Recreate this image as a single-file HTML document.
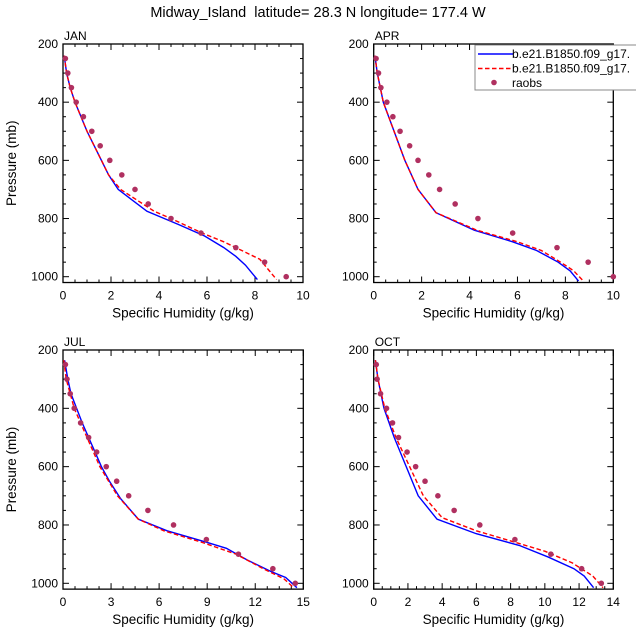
<!DOCTYPE html>
<html><head><meta charset="utf-8"><style>
html,body{margin:0;padding:0;background:#fff;}
svg{display:block;font-family:"Liberation Sans",sans-serif;}
</style></head><body>
<svg id="chart" width="636" height="639" viewBox="0 0 636 639">
<text x="318" y="17" text-anchor="middle" font-size="14.5">Midway_Island&#160; latitude= 28.3 N longitude= 177.4 W</text>
</svg>
<script>
const months = ["JAN","APR","JUL","OCT"];
const xMaxes = [10,10,15,14];
const xStepMajor = [2,2,3,2];
// JAN
const janBlueP = [240,300,350,400,500,600,650,700,775,820,860,900,930,960,990,1010];
const janBlueQ = [0.05,0.15,0.3,0.5,1.0,1.6,1.9,2.3,3.5,4.8,5.9,6.7,7.2,7.6,7.9,8.1];
const janRedP = [240,300,350,400,500,600,650,700,775,800,850,880,900,940,980,1010];
const janRedQ = [0.05,0.15,0.3,0.5,1.0,1.6,1.9,2.4,3.8,4.5,5.8,6.7,7.2,8.2,8.6,8.9];
const janObsP = [250,300,350,400,450,500,550,600,650,700,750,800,850,900,950,1000];
const janObsQ = [0.1,0.2,0.35,0.55,0.85,1.2,1.55,1.95,2.45,3.0,3.55,4.5,5.75,7.2,8.4,9.3];
// APR
const aprBlueP = [240,300,400,500,600,700,780,840,880,910,950,980,1015];
const aprBlueQ = [0.05,0.15,0.4,0.85,1.3,1.85,2.6,4.2,5.8,6.8,7.7,8.2,8.55];
const aprRedP = [240,300,400,500,600,700,780,840,880,910,950,980,1015];
const aprRedQ = [0.05,0.15,0.4,0.85,1.3,1.85,2.6,4.3,6.0,7.0,7.8,8.35,8.75];
const aprObsP = [250,300,350,400,450,500,550,600,650,700,750,800,850,900,950,1000];
const aprObsQ = [0.1,0.2,0.3,0.55,0.8,1.1,1.5,1.85,2.3,2.75,3.4,4.35,5.8,7.65,8.95,10.0];
// JUL
const julBlueP = [235,300,350,400,450,500,550,600,650,710,780,820,860,880,920,960,980,1015];
const julBlueQ = [0.1,0.3,0.5,0.85,1.2,1.6,2.0,2.4,2.9,3.6,4.7,6.5,9.0,10.2,11.5,13.0,13.9,14.6];
const julRedP = [235,300,400,500,600,700,780,820,860,900,950,985,1015];
const julRedQ = [0.05,0.2,0.7,1.5,2.3,3.4,4.7,6.3,8.7,10.8,12.5,13.8,14.4];
const julObsP = [250,300,350,400,450,500,550,600,650,700,750,800,850,900,950,1000];
const julObsQ = [0.15,0.25,0.45,0.7,1.1,1.6,2.1,2.7,3.35,4.1,5.3,6.9,8.95,10.95,13.1,14.5];
// OCT
const octBlueP = [235,300,400,500,600,700,780,830,870,910,950,975,1015];
const octBlueQ = [0.1,0.25,0.6,1.2,1.9,2.6,3.7,6.0,8.5,10.2,11.7,12.3,12.85];
const octRedP = [235,300,400,500,600,700,775,820,860,890,930,975,1015];
const octRedQ = [0.1,0.25,0.65,1.3,2.1,2.9,4.0,6.0,8.3,10.0,11.6,12.8,13.4];
const octObsP = [250,300,350,400,450,500,550,600,650,700,750,800,850,900,950,1000];
const octObsQ = [0.15,0.2,0.4,0.75,1.1,1.45,1.95,2.45,3.0,3.75,4.7,6.2,8.25,10.35,12.15,13.3];
const yTicks = [200,400,600,800,1000];

const blues=[[janBlueP,janBlueQ],[aprBlueP,aprBlueQ],[julBlueP,julBlueQ],[octBlueP,octBlueQ]];
const reds=[[janRedP,janRedQ],[aprRedP,aprRedQ],[julRedP,julRedQ],[octRedP,octRedQ]];
const obs=[[janObsP,janObsQ],[aprObsP,aprObsQ],[julObsP,julObsQ],[octObsP,octObsQ]];

const NS="http://www.w3.org/2000/svg";
const svg=document.getElementById('chart');
function mk(tag,attrs,parent){const e=document.createElementNS(NS,tag);for(const k in attrs)e.setAttribute(k,attrs[k]);(parent||svg).appendChild(e);return e;}
const panels=[{x0:63,x1:303,yTop:44,y1000:276.7},{x0:373.7,x1:613.3,yTop:44,y1000:276.7},{x0:63,x1:303.3,yTop:350,y1000:583.3},{x0:373.7,x1:613.3,yTop:350,y1000:583.3}];
panels.forEach((pn,i)=>{
  const g=mk('g',{});
  
  
  const xm=xMaxes[i];
  const X=v=>pn.x0+(pn.x1-pn.x0)*v/xm;
  const Y=p=>pn.yTop+(pn.y1000-pn.yTop)*(p-200)/800;
  const yb=Y(1020);
  const frame=mk('rect',{x:pn.x0,y:pn.yTop,width:pn.x1-pn.x0,height:yb-pn.yTop,fill:'none',stroke:'#000','stroke-width':1.3},g);
  
  
  const minor=xStepMajor[i]/4;
  for(let v=0;v<=xm+1e-6;v+=minor){
    const isMaj=Math.abs(v/xStepMajor[i]-Math.round(v/xStepMajor[i]))<1e-6;
    const L=isMaj?6:3;
    mk('line',{x1:X(v),x2:X(v),y1:yb,y2:yb-L,stroke:'#000','stroke-width':1},g);
    mk('line',{x1:X(v),x2:X(v),y1:pn.yTop,y2:pn.yTop+L,stroke:'#000','stroke-width':1},g);
    if(isMaj){const t=mk('text',{x:X(v),y:yb+17,'text-anchor':'middle','font-size':12},g);t.textContent=Math.round(v);
      }
  }
  for(let p=200;p<=1000;p+=50){
    const isMaj=p%200===0;const L=isMaj?6:3;
    mk('line',{x1:pn.x0,x2:pn.x0+L,y1:Y(p),y2:Y(p),stroke:'#000','stroke-width':1},g);
    mk('line',{x1:pn.x1,x2:pn.x1-L,y1:Y(p),y2:Y(p),stroke:'#000','stroke-width':1},g);
  }
  yTicks.forEach(p=>{const t=mk('text',{x:pn.x0-5,y:Y(p)+4,'text-anchor':'end','font-size':12},g);t.textContent=p;
    });
  const mt=mk('text',{x:pn.x0+1,y:pn.yTop-4,'font-size':12},g);mt.textContent=months[i];
  
  const xl=mk('text',{x:(pn.x0+pn.x1)/2,y:yb+35,'text-anchor':'middle','font-size':13.5},g);xl.textContent='Specific Humidity (g/kg)';
  
  if(i%2===0){const yl=mk('text',{x:0,y:0,'text-anchor':'middle','font-size':13.5,transform:`translate(16,${(pn.yTop+yb)/2}) rotate(-90)`},g);yl.textContent='Pressure (mb)';
    }
  const bl=mk('polyline',{points:blues[i][0].map((p,k)=>X(blues[i][1][k])+','+Y(p)).join(' '),fill:'none',stroke:'#0000ff','stroke-width':1.4},g);
  
  const rl=mk('polyline',{points:reds[i][0].map((p,k)=>X(reds[i][1][k])+','+Y(p)).join(' '),fill:'none',stroke:'#ff0000','stroke-width':1.4,'stroke-dasharray':'4.5,2.5'},g);
  
  obs[i][0].forEach((p,k)=>{const c=mk('circle',{cx:X(obs[i][1][k]),cy:Y(p),r:2.8,fill:'#b03060'},g);
    });
});
const lg=mk('g',{});


mk('rect',{x:475,y:45,width:170,height:45,fill:'#fff',stroke:'#888','stroke-width':1},lg);
const le1=mk('line',{x1:478,x2:513,y1:54,y2:54,stroke:'#0000ff','stroke-width':1.4},lg);

const le2=mk('line',{x1:478,x2:513,y1:68.5,y2:68.5,stroke:'#ff0000','stroke-width':1.4,'stroke-dasharray':'4.5,2.5'},lg);

const le3=mk('circle',{cx:494,cy:82.5,r:2.8,fill:'#b03060'},lg);

[['b.e21.B1850.f09_g17.',58],['b.e21.B1850.f09_g17.',72.5],['raobs',87]].forEach(([s,y])=>{const t=mk('text',{x:512,y:y,'font-size':12},lg);t.textContent=s;
  });
</script>
</body></html>
